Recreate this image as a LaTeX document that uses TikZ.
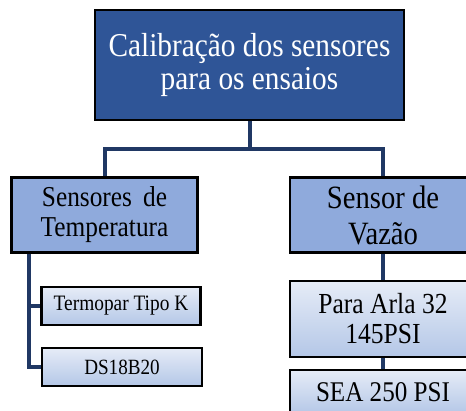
\documentclass[tikz,border=0pt]{standalone}
\usepackage{fontspec}
\setmainfont{Liberation Serif}[FakeStretch=0.88]
\definecolor{topblue}{HTML}{2F5597}
\definecolor{midblue}{HTML}{8FAADC}
\definecolor{lowtop}{HTML}{E6ECF7}
\definecolor{lowbot}{HTML}{B4C7E7}
\definecolor{linkblue}{HTML}{203864}
\begin{document}
\begin{tikzpicture}[x=0.75pt,y=-0.75pt,
  box/.style={draw=black,line width=2.2pt,align=center,inner sep=0pt},
  topbox/.style={box,fill=topblue,text=white,minimum width=231.75pt,minimum height=82.5pt},
  midbox/.style={box,fill=midblue,minimum width=139pt,minimum height=56pt},
  lowbox/.style={box,top color=lowtop,bottom color=lowbot,minimum width=139.5pt},
  link/.style={draw=linkblue,line width=3pt}]
  \useasboundingbox (0,0) rectangle (466,410);
  \clip (0,0) rectangle (466,410);
  % nodes
  \node[topbox,font=\fontsize{25}{25}\selectfont] (calib) at (249.5,65) {Calibração dos sensores\\para os ensaios};
  \node[midbox,font=\fontsize{21.6}{22.5}\selectfont] (temp) at (104.5,215) {Sensores\, de\\Temperatura};
  \node[midbox,font=\fontsize{24.4}{27}\selectfont,minimum width=139.5pt] (vazao) at (383,215) {Sensor de\\Vazão};
  \node[lowbox,font=\fontsize{16.5}{18}\selectfont,minimum width=119pt,minimum height=28.5pt] (termo) at (121,306) {Termopar Tipo K};
  \node[lowbox,font=\fontsize{16.3}{18}\selectfont,minimum width=120pt,minimum height=28.5pt] (ds) at (122,367) {DS18B20};
  \node[lowbox,font=\fontsize{21.8}{22.5}\selectfont,minimum height=57pt] (arla) at (383,319) {Para Arla 32\\145PSI};
  \node[lowbox,font=\fontsize{21.4}{22.5}\selectfont,minimum height=33pt] (sea) at (383,392) {SEA 250 PSI};
  % links
  \draw[link] (calib.south) -- ++(0,28) -| (temp.north);
  \draw[link] (calib.south) -- ++(0,28) -| (vazao.north);
  \coordinate (tv) at ([xshift=14.25pt]temp.south west);
  \draw[link] (tv) |- (termo.west);
  \draw[link] (tv) |- (ds.west);
  \draw[link] (vazao.south) -- (arla.north);
  \draw[link] (arla.south) -- (sea.north);
\end{tikzpicture}
\end{document}
